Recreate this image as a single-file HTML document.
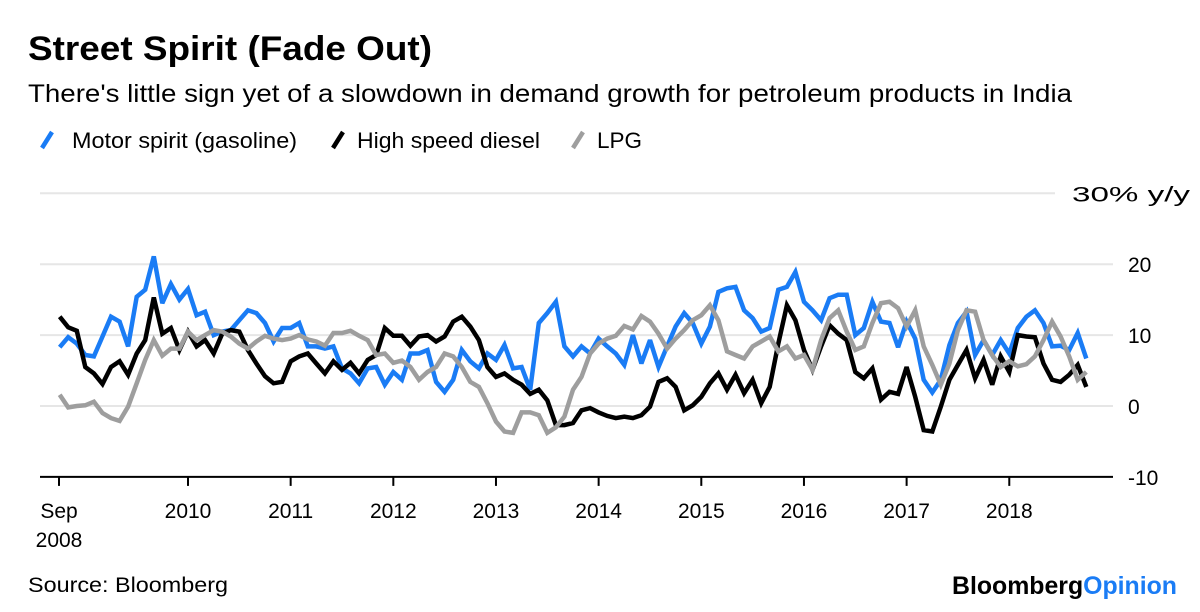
<!DOCTYPE html>
<html><head><meta charset="utf-8">
<style>
body{margin:0;background:#fff;width:1200px;height:612px;overflow:hidden;font-family:"Liberation Sans",sans-serif}
svg{position:absolute;left:0;top:0}
</style></head>
<body>
<svg width="1200" height="612" viewBox="0 0 1200 612">
<text x="28" y="60" font-size="34" font-weight="bold" fill="#000" textLength="404" lengthAdjust="spacingAndGlyphs">Street Spirit (Fade Out)</text>
<text x="28" y="102" font-size="25" fill="#000" textLength="1044" lengthAdjust="spacingAndGlyphs">There's little sign yet of a slowdown in demand growth for petroleum products in India</text>
<g font-size="22">
<g><line x1="42" y1="148" x2="52" y2="132" stroke="#1a7cf5" stroke-width="4.5"/><text x="72" y="148" textLength="225" lengthAdjust="spacingAndGlyphs">Motor spirit (gasoline)</text></g>
<g><line x1="333" y1="148" x2="343" y2="132" stroke="#000" stroke-width="4.5"/><text x="357" y="148" textLength="183" lengthAdjust="spacingAndGlyphs">High speed diesel</text></g>
<g><line x1="573" y1="148" x2="583" y2="132" stroke="#9e9e9e" stroke-width="4.5"/><text x="597" y="148" textLength="45" lengthAdjust="spacingAndGlyphs">LPG</text></g>
</g>
<g id="grid"></g>
<g id="yticks" font-size="21"></g>
<g id="xaxis" font-size="21"></g>
<g id="series"></g>
<text x="28" y="592" font-size="21" textLength="200" lengthAdjust="spacingAndGlyphs">Source: Bloomberg</text>
<text x="952" y="594" font-size="25" font-weight="bold" textLength="225" lengthAdjust="spacingAndGlyphs"><tspan fill="#000">Bloomberg</tspan><tspan fill="#1a7cf5">Opinion</tspan></text>
</svg>
<script>
const yTicks=[-10,0,10,20,30];
const yLabels=["-10","0","10","20","30% y/y"];
const xYears=[2010,2011,2012,2013,2014,2015,2016,2017,2018];
const startMonth=-15; // Oct 2008, months relative to Jan 2010
const gasoline=[8.3,9.7,8.8,7.2,7.0,9.8,12.6,11.9,8.4,15.4,16.4,21.1,14.5,17.2,15.0,16.5,12.8,13.3,10.0,10.5,10.7,12.1,13.5,13.1,11.7,9.1,11.0,11.0,11.7,8.4,8.4,8.1,8.4,5.3,4.6,3.2,5.3,5.5,3.0,4.8,
3.7,7.4,7.4,7.9,3.4,2.0,3.7,7.9,6.3,5.3,7.4,6.5,8.6,5.3,5.5,2.3,11.7,13.1,14.7,8.4,7.0,8.4,7.4,9.5,8.4,7.4,5.8,10.0,6.0,9.3,5.5,8.4,11.2,13.1,11.7,8.8,11.2,16.1,16.6,16.8,
13.5,12.4,10.5,11.0,16.4,16.8,18.9,14.7,13.5,12.1,15.2,15.7,15.7,10.0,11.0,14.7,11.9,11.7,8.3,11.9,9.5,3.7,1.9,3.7,8.6,11.7,13.3,7.2,9.3,7.2,9.3,7.4,11.0,12.6,13.5,11.7,8.4,8.5,7.9,10.3,6.7];
const diesel=[12.6,11.1,10.6,5.5,4.6,3.1,5.5,6.3,4.4,7.4,9.3,15.3,10.2,11.0,7.9,10.5,8.4,9.3,7.4,10.2,10.7,10.5,7.9,6.0,4.2,3.2,3.4,6.3,7.0,7.4,6.0,4.6,6.3,5.1,6.1,4.6,6.5,7.2,11.0,9.9,
9.9,8.5,9.8,10.0,9.1,9.8,11.9,12.6,11.2,9.3,5.5,4.1,4.6,3.7,3.0,1.7,2.3,0.8,-2.7,-2.7,-2.4,-0.6,-0.3,-0.9,-1.4,-1.7,-1.5,-1.7,-1.3,-0.1,3.4,3.9,2.7,-0.6,0.1,1.3,3.2,4.6,2.3,4.4,
1.8,3.7,0.4,2.7,8.8,14.2,12.1,7.9,5.1,8.4,11.4,10.2,9.3,4.8,3.9,5.3,0.9,2.0,1.7,5.5,1.3,-3.4,-3.6,-0.1,3.7,5.8,7.9,3.9,6.5,3.0,7.0,4.8,10.0,9.8,9.7,6.0,3.7,3.4,4.4,5.8,2.7];
const lpg=[1.6,-0.2,0.0,0.1,0.6,-1.0,-1.7,-2.1,-0.1,3.2,6.5,9.3,7.1,8.1,8.1,10.5,9.3,10.0,10.7,10.5,9.8,8.8,8.1,9.1,9.9,9.5,9.3,9.5,10.0,9.4,9.1,8.5,10.3,10.3,10.6,9.9,9.3,7.2,7.4,6.1,
6.4,5.5,3.7,4.8,5.5,7.4,7.0,5.5,3.4,2.7,0.4,-2.2,-3.6,-3.8,-0.9,-0.9,-1.3,-3.8,-3.0,-1.5,2.3,4.1,7.4,8.8,9.5,9.9,11.3,10.8,12.7,11.9,10.2,8.1,9.5,10.7,12.1,12.8,14.2,12.1,7.7,7.2,
6.7,8.4,9.1,9.8,7.7,8.4,6.7,7.2,5.1,9.3,12.4,13.5,10.5,7.9,8.4,11.7,14.5,14.7,13.8,11.2,13.5,8.4,5.8,3.0,6.0,10.7,13.5,13.3,9.3,7.2,5.5,6.3,5.6,5.9,7.0,9.3,11.9,9.8,7.0,3.7,4.8];

const NS="http://www.w3.org/2000/svg";
function yS(v){return 406-v*7.09;}
function xS(m){return 188+m*8.555;}
function mk(tag,attrs,parent){const e=document.createElementNS(NS,tag);for(const k in attrs)e.setAttribute(k,attrs[k]);parent.appendChild(e);return e;}
const grid=document.getElementById('grid'),yt=document.getElementById('yticks'),xa=document.getElementById('xaxis'),ser=document.getElementById('series');
yTicks.forEach((v,i)=>{
  if(v!==-10){
    const g=mk('line',{x1:40,x2:v===30?1055:1113,y1:yS(v),y2:yS(v),stroke:'#e6e6e6','stroke-width':2},grid);
    
    
  }
  const attrs={x:v===30?1072:1128,y:yS(v)+8};
  if(v===30){attrs.textLength=118;attrs.lengthAdjust='spacingAndGlyphs';}
  const t=mk('text',attrs,yt);
  t.textContent=yLabels[i];
  
  
});
const ax=mk('line',{x1:40,x2:1113,y1:yS(-10),y2:yS(-10),stroke:'#000','stroke-width':2},xa);


const x0=59;
const t0=mk('line',{x1:x0,x2:x0,y1:yS(-10),y2:yS(-10)+9,stroke:'#000','stroke-width':2},xa);


const l0=mk('text',{x:x0,y:518,'text-anchor':'middle'},xa);l0.textContent='Sep';


const l1=mk('text',{x:x0,y:547,'text-anchor':'middle'},xa);l1.textContent='2008';


xYears.forEach(y=>{
  const x=xS((y-2010)*12);
  const t=mk('line',{x1:x,x2:x,y1:yS(-10),y2:yS(-10)+9,stroke:'#000','stroke-width':2},xa);
  
  
  const l=mk('text',{x:x,y:518,'text-anchor':'middle'},xa);l.textContent=y;
  
  
});
function draw(data,color,name){
  const d=data.map((v,i)=>(i?'L':'M')+xS(startMonth+i).toFixed(1)+','+yS(v).toFixed(1)).join('');
  const p=mk('path',{d:d,fill:'none',stroke:color,'stroke-width':4.5,'stroke-linejoin':'miter','stroke-miterlimit':3},ser);
  
  
}
draw(gasoline,'#1a7cf5','line-gasoline');
draw(diesel,'#000000','line-diesel');
draw(lpg,'#9e9e9e','line-lpg');
</script>
</body></html>
